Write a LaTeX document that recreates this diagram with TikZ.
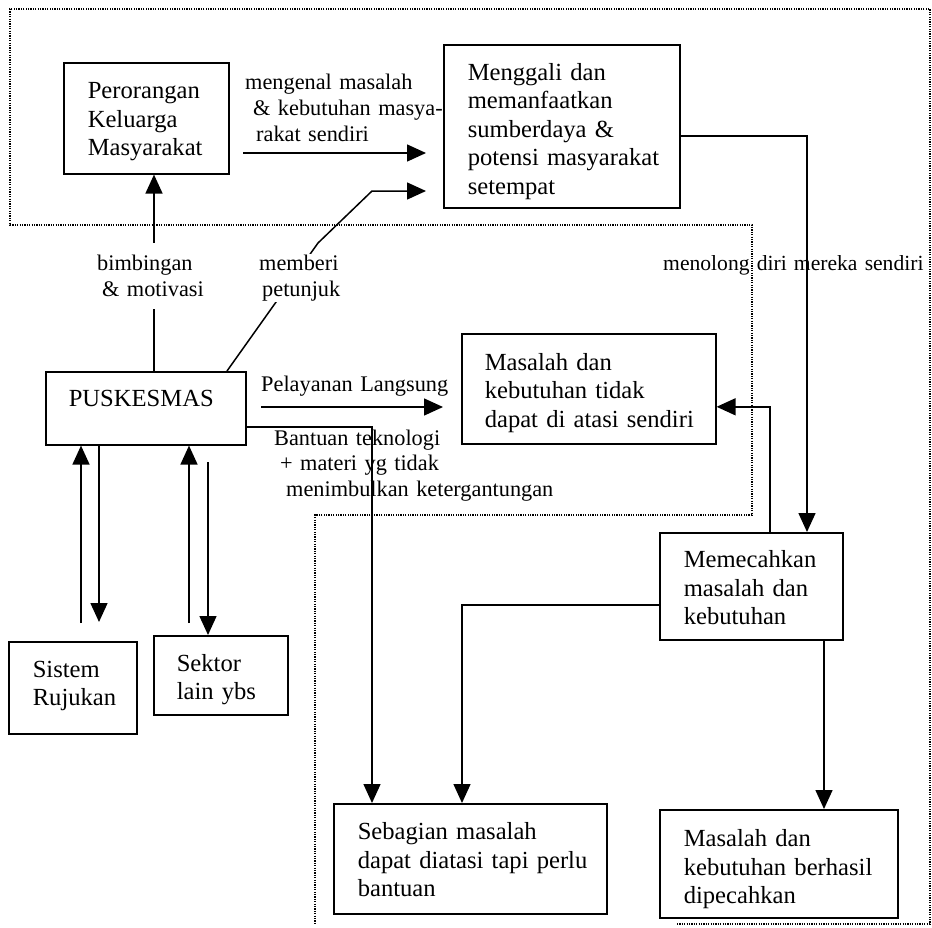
\documentclass[tikz,border=0pt]{standalone}
\usepackage{fontspec}
\setmainfont{Liberation Serif}
\usetikzlibrary{arrows.meta}
\begin{document}
\begin{tikzpicture}[x=1pt,y=-1pt,
  box/.style={draw, line width=1.6pt, anchor=north west, inner ysep=0pt, align=left,
    font=\fontsize{24.6}{28.4}\selectfont\hyphenpenalty10000\relax},
  lbl/.style={anchor=base west, inner sep=0pt, align=left, text width=300pt,
    font=\fontsize{22.3}{25.8}\selectfont\hyphenpenalty10000\relax},
  arr/.style={line width=1.5pt, -{Triangle[length=19pt,width=17pt]}},
  dotline/.style={line width=1.2pt, dash pattern=on 1.2pt off 1.2pt}]
\useasboundingbox (0,0) rectangle (932,927);

% dotted community area
\draw[dotline] (677,924) -- (930,924) -- (930,9) -- (10,9) -- (10,225) -- (752,225)
  -- (752,515) -- (315,515) -- (315,924);

% boxes
\node[box, inner xsep=24pt, text width=117pt, text height=36pt, text depth=75pt] (pero) at (63,62)
  {Perorangan\\Keluarga\\Masyarakat};
\node[box, inner xsep=24pt, text width=188pt, text height=35.6pt, text depth=127.4pt] (meng) at (443,44)
  {Menggali~dan\\memanfaatkan\\sumberdaya~\&\\potensi~masyarakat\\setempat};
\node[box, inner xsep=23pt, text width=154pt, text height=35pt, text depth=38pt] (pusk) at (45,371)
  {PUSKESMAS};
\node[box, inner xsep=23pt, text width=208pt, text height=36.6pt, text depth=73.4pt] (mtid) at (461,333)
  {Masalah~dan\\kebutuhan~tidak\\dapat~di~atasi~sendiri};
\node[box, inner xsep=24pt, text width=135pt, text height=35pt, text depth=72pt] (memec) at (659,532)
  {Memecahkan\\masalah~dan\\kebutuhan};
\node[box, inner xsep=24pt, text width=80pt, text height=35.5pt, text depth=56.5pt] (sis) at (8,641)
  {Sistem\\Rujukan};
\node[box, inner xsep=23pt, text width=88pt, text height=35.5pt, text depth=43.5pt] (sek) at (153,635)
  {Sektor\\lain~ybs};
\node[box, inner xsep=24pt, text width=225pt, text height=36pt, text depth=74pt] (seb) at (333,803)
  {Sebagian~masalah\\dapat~diatasi~tapi~perlu\\bantuan};
\node[box, inner xsep=24pt, text width=190pt, text height=37pt, text depth=71pt] (bhs) at (659,809)
  {Masalah~dan\\kebutuhan~berhasil\\dipecahkan};

% free ends
\coordinate (k1s) at (243,153);
\coordinate (k1e) at (426,153);
\coordinate (mb1) at (318,243);
\coordinate (mb2) at (372,191);
\coordinate (mb3) at (426,191);
\coordinate (pls) at (261,407);
\coordinate (ple) at (443,407);
\coordinate (sisu) at (81,623);
\coordinate (sisd) at (99,622);
\coordinate (seku) at (189,623);
\coordinate (sekd) at (208,462);

% connectors
\draw[arr] (k1s) -- (k1e);
\draw[arr] ([xshift=109pt]pusk.north west) -- ([xshift=91pt]pero.south west);
\draw[arr] ([xshift=182pt]pusk.north west) -- (mb1) -- (mb2) -- (mb3);
\draw[arr] (pls) -- (ple);
\draw[arr] ([yshift=-18.5pt]pusk.east) -| ([xshift=39pt]seb.north west);
\draw[arr] ([yshift=-9.5pt]meng.east) -| ([xshift=148pt]memec.north west);
\draw[arr] ([xshift=111pt]memec.north west) |- ([yshift=-18pt]mtid.east);
\draw[arr] ([yshift=-18.5pt]memec.west) -| ([xshift=129pt]seb.north west);
\draw[arr] ([xshift=165pt]memec.south west) -- ([xshift=165pt]bhs.north west);
\draw[arr] (sisu) -- ([xshift=36pt]pusk.south west);
\draw[arr] ([xshift=54pt]pusk.south west) -- (sisd);
\draw[arr] (seku) -- ([xshift=144pt]pusk.south west);
\draw[arr] (sekd) -- ([xshift=55pt]sek.north west);

% labels
\node[lbl] (lmeng) at (245,89.5)
  {mengenal masalah\\\hspace*{8pt}\& kebutuhan masya-\\\hspace*{11pt}rakat sendiri};
\node[lbl, text width=108pt, fill=white, inner ysep=12pt] (lbim) at (97,270.7)
  {bimbingan\\\hspace*{5pt}\& motivasi};
\node[lbl, text width=82pt, fill=white, inner ysep=1pt] (lmem) at (259,270.7)
  {memberi\\\hspace*{3pt}petunjuk};
\node[lbl] (lpel) at (261,391.7) {Pelayanan Langsung};
\node[lbl] (lban) at (274,445)
  {Bantuan teknologi\\\hspace*{6pt}+ materi yg tidak\\\hspace*{12pt}menimbulkan ketergantungan};
\node[lbl, font=\fontsize{21.6}{25.8}\selectfont] (lmen) at (663,270) {menolong diri mereka sendiri};
\end{tikzpicture}
\end{document}
